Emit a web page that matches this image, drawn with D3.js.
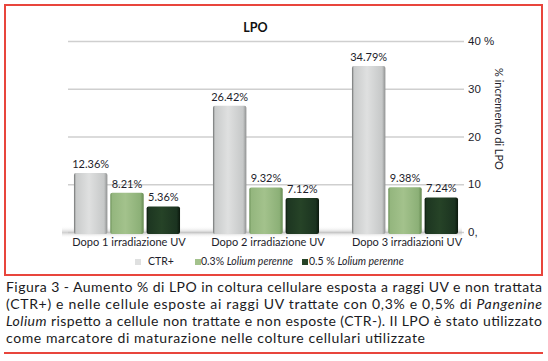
<!DOCTYPE html>
<html>
<head>
<meta charset="utf-8">
<script src="https://cdn.jsdelivr.net/npm/d3@7"></script>
<style>
  body { margin: 0; background: #fff; }
  svg { display: block; font-family: Lato, "Open Sans", sans-serif; }
</style>
</head>
<body>
<div id="grafic"></div>
<script>
// dati
const categorie = ['Dopo 1 irradiazione UV', 'Dopo 2 irradiazione UV', 'Dopo 3 irradiazioni UV'];
const serie = ['CTR+', '0.3% Lolium perenne', '0.5 % Lolium perenne'];
const ctrPiu = [12.36, 26.42, 34.79];
const lolium03 = [8.21, 9.32, 9.38];
const lolium05 = [5.36, 7.12, 7.24];
const tacche = [0, 10, 20, 30, 40];
const etichetteTacche = ['0,', '10', '20', '30', '40 %'];
const didascalia = [
	'Figura 3 - Aumento % di LPO in coltura cellulare esposta a raggi UV e non trattata',
	'(CTR+) e nelle cellule esposte ai raggi UV trattate con 0,3% e 0,5% di <i>Pangenine</i>',
	'<i>Lolium</i> rispetto a cellule non trattate e non esposte (CTR-). Il LPO è stato utilizzato',
	'come marcatore di maturazione nelle colture cellulari utilizzate'
];

const W = 548, H = 361;
const valori = [ctrPiu, lolium03, lolium05];

const svg = d3.select('#grafic').append('svg')
	.attr('width', W)
	.attr('height', H);

const defs = svg.append('defs');
// gradienti per l'effetto 3D delle barre
const colori = [
	['#6e7070', '#c9cbcb', '#dfe0e0', '#c6c8c8', '#8f9191'],
	['#6a8f56', '#94b67e', '#a3c28c', '#8cb077', '#668a52'],
	['#0a170c', '#1d3621', '#264327', '#1b3320', '#0b180d']
];
colori.forEach((c, i) => {
	const g = defs.append('linearGradient').attr('id', 'gr' + i)
		.attr('x1', 0).attr('x2', 1).attr('y1', 0).attr('y2', 0);
	[0, 0.06, 0.45, 0.9, 1].forEach((o, k) => {
		g.append('stop').attr('offset', o).attr('stop-color', c[k]);
	});
});
const pav = defs.append('linearGradient').attr('id', 'pav')
	.attr('x1', 0).attr('x2', 0).attr('y1', 0).attr('y2', 1);
pav.append('stop').attr('offset', 0).attr('stop-color', '#fff').attr('stop-opacity', 0);
pav.append('stop').attr('offset', 0.55).attr('stop-color', '#c4c4c4').attr('stop-opacity', 0.8);
pav.append('stop').attr('offset', 1).attr('stop-color', '#fff').attr('stop-opacity', 0);

// cornice rossa
svg.append('rect')
	.attr('x', 5).attr('y', 5)
	.attr('width', 537).attr('height', 270)
	.attr('fill', 'none')
	.attr('stroke', '#e8453c')
	.attr('stroke-width', 2);
svg.append('line')
	.attr('x1', 4).attr('x2', 543)
	.attr('y1', 353).attr('y2', 353)
	.attr('stroke', '#e8453c')
	.attr('stroke-width', 2);

const y = d3.scaleLinear().domain([0, 40]).range([232, 41]);
const x0 = d3.scaleBand().domain(categorie)
	.range([57.5, 474.5])
	.paddingInner(0.237)
	.paddingOuter(0.1185);
const x1 = d3.scaleBand().domain(serie)
	.range([0, x0.bandwidth()])
	.paddingInner(0.08);

// griglia e asse destro
const asse = svg.append('g')
	.attr('transform', 'translate(464,0)')
	.call(d3.axisRight(y)
		.tickValues(tacche)
		.tickSize(-396)
		.tickPadding(4)
		.tickFormat((d, i) => etichetteTacche[i]));
asse.select('.domain').remove();
asse.selectAll('line')
	.attr('stroke', '#cfcfcf')
	.attr('stroke-width', 1.6);
asse.selectAll('text')
	.attr('font-size', 11.5)
	.attr('fill', '#1d1d2b');

// ombra del pavimento
svg.append('rect')
	.attr('x', 62).attr('y', 226)
	.attr('width', 400).attr('height', 12)
	.attr('fill', 'url(#pav)');

svg.append('text')
	.attr('transform', 'translate(495,119) rotate(90)')
	.attr('text-anchor', 'middle')
	.attr('font-size', 11)
	.attr('fill', '#1d1d2b')
	.text('% incremento di LPO');

svg.append('text')
	.attr('x', 255.5).attr('y', 32)
	.attr('text-anchor', 'middle')
	.attr('font-size', 12.5)
	.attr('font-weight', 'bold')
	.attr('fill', '#111')
	.text('LPO');

// barre
const gruppi = svg.selectAll('.gruppo')
	.data(categorie)
	.join('g')
	.attr('class', 'gruppo')
	.attr('transform', d => `translate(${x0(d)},0)`);

gruppi.selectAll('rect')
	.data((d, i) => serie.map((s, k) => ({s, k, v: valori[k][i]})))
	.join('rect')
	.attr('x', d => x1(d.s))
	.attr('y', d => y(d.v))
	.attr('width', x1.bandwidth())
	.attr('height', d => y(0) - y(d.v) + 2)
	.attr('rx', 2)
	.attr('fill', d => `url(#gr${d.k})`);

gruppi.selectAll('.val')
	.data((d, i) => serie.map((s, k) => ({s, k, v: valori[k][i]})))
	.join('text')
	.attr('class', 'val')
	.attr('x', d => x1(d.s) + x1.bandwidth() / 2)
	.attr('y', d => y(d.v) - 5)
	.attr('text-anchor', 'middle')
	.attr('font-size', 11)
	.attr('fill', '#1d1d2b')
	.text(d => d3.format('.2f')(d.v) + '%');

gruppi.append('text')
	.attr('x', x0.bandwidth() / 2 + 2)
	.attr('y', 246)
	.attr('text-anchor', 'middle')
	.attr('font-size', 11)
	.attr('fill', '#1d1d2b')
	.text(d => d);

// legenda
const leg = [
	{x: 135, tx: 148},
	{x: 195, tx: 201},
	{x: 302, tx: 309}
];
serie.forEach((s, k) => {
	svg.append('rect')
		.attr('x', leg[k].x).attr('y', 259)
		.attr('width', 6).attr('height', 6)
		.attr('fill', colori[k][2]);
	const t = svg.append('text')
		.attr('x', leg[k].tx).attr('y', 265)
		.attr('font-size', 10.5)
		.attr('fill', '#1d1d2b');
	if (k === 0) {
		t.text(s);
	} else {
		const parti = s.split('Lolium');
		t.append('tspan').text(parti[0]);
		t.append('tspan').attr('font-style', 'italic').text('Lolium perenne');
	}
});

// didascalia
const largh = [536, 536, 536, 419];
didascalia.forEach((riga, i) => {
	const t = svg.append('text')
		.attr('x', 6)
		.attr('y', 292 + i * 17)
		.attr('font-size', 14)
		.attr('fill', '#1a1a22')
		.attr('textLength', largh[i])
		.attr('lengthAdjust', 'spacing');
	riga.split(/(<i>.*?<\/i>)/).filter(p => p).forEach(p => {
		const corsivo = p.startsWith('<i>');
		t.append('tspan')
			.attr('font-style', corsivo ? 'italic' : null)
			.text(p.replace(/<\/?i>/g, ''));
	});
});
</script>
</body>
</html>
